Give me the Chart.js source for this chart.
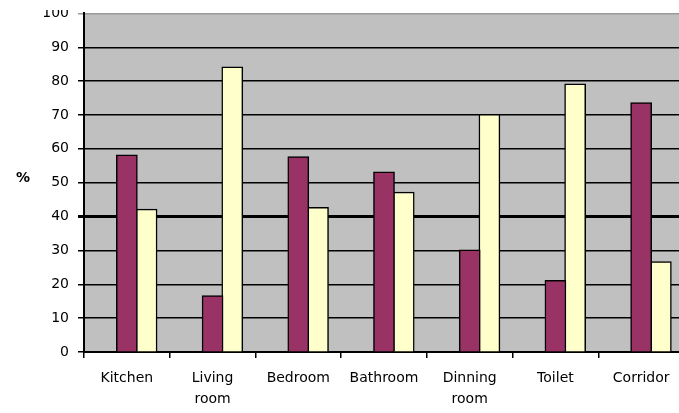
<!DOCTYPE html>
<html>
<head>
<meta charset="utf-8">
<script src="https://cdn.jsdelivr.net/npm/chart.js@4"></script>
<style>
  body { margin: 0; background: #fff; overflow: hidden; width: 679px; height: 413px; position: relative; }
  #wrap { position: absolute; left: 0; top: -4px; width: 690px; height: 417px; }
  #crop { position: absolute; left: 0; top: 0; width: 80px; height: 10px; background: #fff; }
</style>
</head>
<body>
<div id="wrap"><canvas id="roomChart" width="690" height="417"></canvas></div>
<div id="crop"></div>
<script>
const categories = ['Kitchen', ['Living', 'room'], 'Bedroom', 'Bathroom', ['Dinning', 'room'], 'Toilet', 'Corridor'];
const seriesA = [58, 16.5, 57.5, 53, 30, 21, 73.5];
const seriesB = [42, 84, 42.5, 47, 70, 79, 26.5];
// empty slot so the pair of bars sits a little right of the category centre, as in the original
const spacer = [null, null, null, null, null, null, null];
const yTicks = [0, 10, 20, 30, 40, 50, 60, 70, 80, 90, 100];

const ctx = document.getElementById('roomChart').getContext('2d');

// grey plot area + horizontal "%" title
const plotBg = {
    id: 'plotBg',
    beforeDraw(chart) {
        const a = chart.chartArea;
        const c = chart.ctx;
        c.save();
        c.fillStyle = '#c0c0c0';
        c.fillRect(a.left, a.top, a.right - a.left, a.bottom - a.top);
        c.restore();
    },
    afterDraw(chart) {
        const c = chart.ctx;
        c.save();
        c.fillStyle = '#000';
        c.font = 'bold 14px "DejaVu Sans"';
        c.textAlign = 'center';
        c.textBaseline = 'middle';
        c.fillText('%', 23, 182);
        c.restore();
    }
};

new Chart(ctx, {
    type: 'bar',
    data: {
        labels: categories,
        datasets: [{
            label: '',
            data: spacer
        }, {
            label: 'A',
            data: seriesA,
            backgroundColor: '#993366',
            borderColor: '#000',
            borderWidth: 1.5,
            inflateAmount: 1
        }, {
            label: 'B',
            data: seriesB,
            backgroundColor: '#ffffcc',
            borderColor: '#000',
            borderWidth: 1.5,
            inflateAmount: 1
        }]
    },
    options: {
        responsive: false,
        animation: false,
        layout: { padding: { top: 13, right: 6, left: 0, bottom: 0 } },
        datasets: { bar: { categoryPercentage: 0.69, barPercentage: 1 } },
        plugins: { legend: { display: false }, tooltip: { enabled: false } },
        scales: {
            x: {
                grid: {
                    offset: true,
                    drawOnChartArea: false,
                    color: '#000',
                    lineWidth: 1.5,
                    tickLength: 6
                },
                border: { color: '#000', width: 2 },
                ticks: {
                    color: '#000',
                    padding: 10,
                    maxRotation: 0,
                    autoSkip: false,
                    font: { family: 'DejaVu Sans', size: 14, lineHeight: 1.5 }
                },
                afterFit(scale) { scale.height = 61; }
            },
            y: {
                min: 0,
                max: 100,
                afterBuildTicks(scale) { scale.ticks = yTicks.map(v => ({ value: v })); },
                grid: {
                    color: c => c.tick && c.tick.value === 100 ? '#999' : '#000',
                    lineWidth: c => c.tick && c.tick.value === 40 ? 3 : 1.5,
                    tickLength: 6
                },
                border: { color: '#000', width: 2 },
                ticks: {
                    color: '#000',
                    padding: 9,
                    font: { family: 'DejaVu Sans', size: 14 }
                },
                afterFit(scale) { scale.width = 84; }
            }
        }
    },
    plugins: [plotBg]
});
</script>
</body>
</html>
